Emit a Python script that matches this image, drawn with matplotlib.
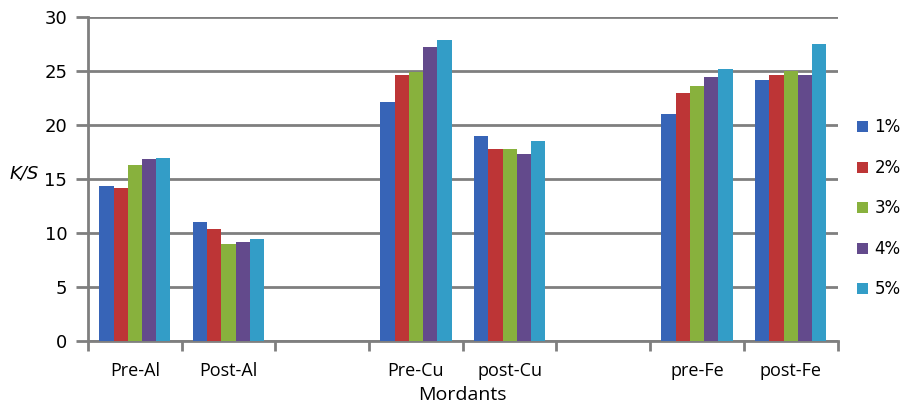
import matplotlib
matplotlib.use("Agg")
import matplotlib.pyplot as plt
import numpy as np

categories = ["Pre-Al", "Post-Al", "", "Pre-Cu", "post-Cu", "", "pre-Fe", "post-Fe"]
series_names = ["1%", "2%", "3%", "4%", "5%"]
s1 = [14.4, 11.0, np.nan, 22.1, 19.0, np.nan, 21.0, 24.2]
s2 = [14.2, 10.4, np.nan, 24.6, 17.8, np.nan, 23.0, 24.6]
s3 = [16.3, 9.0, np.nan, 24.9, 17.8, np.nan, 23.6, 25.0]
s4 = [16.9, 9.2, np.nan, 27.2, 17.3, np.nan, 24.5, 24.6]
s5 = [17.0, 9.5, np.nan, 27.9, 18.5, np.nan, 25.2, 27.5]
values = [s1, s2, s3, s4, s5]
colors = ["#3764b7", "#bd3536", "#88b13d", "#634a8c", "#339dc7"]

fig = plt.figure(figsize=(9.03, 4.08), dpi=100)
ax = fig.add_axes([0.0975, 0.164, 0.83, 0.794])

n = len(categories)
x = np.arange(n)
group_w = 0.76
bw = group_w / len(series_names)
for i, (name, vals, c) in enumerate(zip(series_names, values, colors)):
    offs = -group_w / 2 + bw * (i + 0.5)
    ax.bar(x + offs, vals, width=bw, color=c, label=name, zorder=3)

ax.set_xlim(-0.5, n - 0.5)
ax.set_ylim(0, 30)
ax.set_yticks(range(0, 31, 5))
ax.yaxis.grid(True, color="#7f7f7f", linewidth=2, zorder=0)
ax.set_axisbelow(True)

# category labels at centers, tick marks at boundaries
ax.set_xticks(np.arange(-0.5, n, 1.0))
ax.set_xticklabels([])
ax.set_xticks(x, minor=True)
ax.set_xticklabels(categories, minor=True, fontsize=13, family="Open Sans")
ax.tick_params(axis="x", which="major", length=7, width=2, color="#7f7f7f", direction="out")
ax.tick_params(axis="x", which="minor", length=0, pad=15)
ax.tick_params(axis="y", length=9, width=2, color="#7f7f7f", labelsize=13, pad=6)

for s in ["top", "right"]:
    ax.spines[s].set_visible(False)
for s in ["left", "bottom"]:
    ax.spines[s].set_color("#7f7f7f")
    ax.spines[s].set_linewidth(2)

fig.text(0.0975 + 0.83 / 2, 0.032, "Mordants", fontsize=14, family="Open Sans",
         ha="center", va="center")
ax.set_ylabel("K/S", fontsize=13, style="italic", rotation=0)
ax.yaxis.set_label_coords(-0.085, 0.49)

fig.legend(loc="center left", bbox_to_anchor=(0.949, 0.489), frameon=False,
           fontsize=12, handlelength=0.65, handleheight=0.65, handletextpad=0.4,
           labelspacing=1.35, borderaxespad=0, borderpad=0)

fig.savefig("out.png", dpi=100)
